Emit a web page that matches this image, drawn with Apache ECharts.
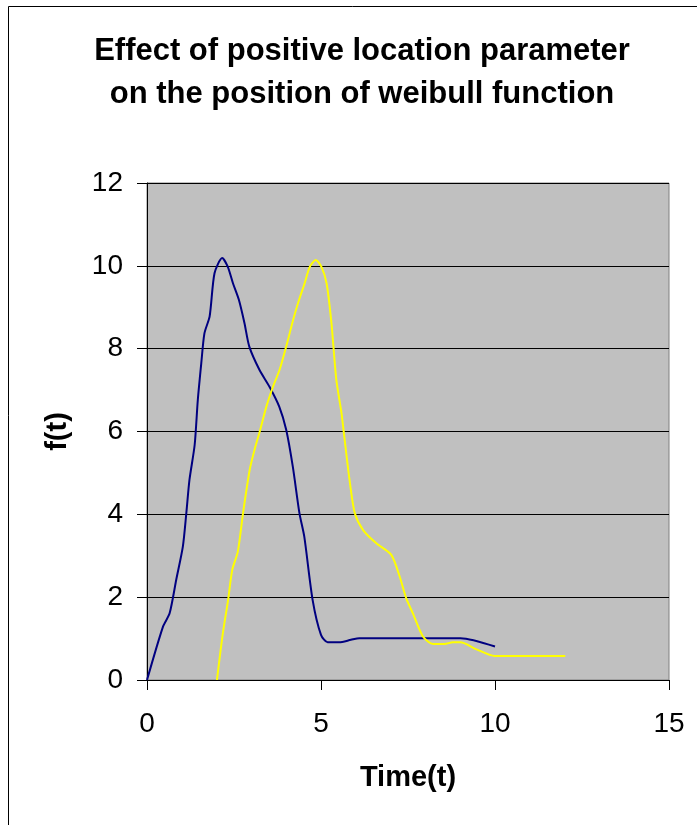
<!DOCTYPE html>
<html>
<head>
<meta charset="utf-8">
<script src="https://cdn.jsdelivr.net/npm/echarts@6/dist/echarts.min.js"></script>
<style>
  html, body { margin: 0; padding: 0; background: #fff; }
  #chart { width: 697px; height: 825px; }
</style>
</head>
<body>
<div id="chart"></div>
<script>
const titleText = 'Effect of positive location parameter\non the position of weibull function';
const xName = 'Time(t)';
const yName = 'f(t)';
const xTicks = [0, 5, 10, 15];
const yTicks = [0, 2, 4, 6, 8, 10, 12];

const blueX = [0, 0.46, 0.65, 0.84, 1.03, 1.13, 1.22, 1.37, 1.46, 1.56, 1.65, 1.80, 1.94, 2.16, 2.32, 2.47, 2.64, 2.80, 2.94, 3.23, 3.52, 3.80, 4.00, 4.19, 4.38, 4.52, 4.76, 5.00, 5.19, 5.52, 5.86, 6.10, 9.01, 10.0];
const blueY = [0, 1.29, 1.61, 2.42, 3.22, 4.03, 4.83, 5.68, 6.76, 7.65, 8.37, 8.78, 9.82, 10.19, 9.98, 9.58, 9.18, 8.62, 8.05, 7.49, 7.08, 6.60, 6.04, 5.15, 4.03, 3.46, 1.93, 1.09, 0.91, 0.91, 0.97, 1.01, 1.01, 0.81];

const yellowX = [2.01, 2.18, 2.33, 2.45, 2.61, 2.76, 2.95, 3.09, 3.24, 3.43, 3.62, 3.81, 4.05, 4.20, 4.37, 4.53, 4.68, 4.85, 5.01, 5.16, 5.30, 5.44, 5.59, 5.68, 5.82, 5.97, 6.21, 6.59, 7.02, 7.26, 7.45, 7.64, 7.93, 8.22, 8.55, 8.79, 9.01, 9.47, 9.99, 12.02];
const yellowY = [0, 1.13, 1.93, 2.66, 3.10, 4.03, 5.07, 5.56, 6.00, 6.60, 7.08, 7.49, 8.21, 8.70, 9.18, 9.58, 9.98, 10.14, 9.98, 9.58, 8.62, 7.25, 6.44, 5.80, 4.83, 4.03, 3.62, 3.30, 3.02, 2.50, 1.97, 1.61, 1.05, 0.87, 0.87, 0.91, 0.91, 0.74, 0.58, 0.58];

const zip = (xs, ys) => xs.map((x, i) => [x, ys[i]]);

const chart = echarts.init(document.getElementById('chart'), null, { renderer: 'canvas' });
const FONT = 'Liberation Sans, Arial, sans-serif';

chart.setOption({
  backgroundColor: '#ffffff',
  animation: false,
  title: {
    text: titleText,
    left: 362,
    textAlign: 'center',
    top: 30,
    padding: 0,
    textStyle: { fontFamily: FONT, fontSize: 31, fontWeight: 'bold', color: '#000', lineHeight: 43 }
  },
  graphic: [{
    type: 'polyline',
    shape: { points: [[8.5, 825], [8.5, 6.5], [697, 6.5]] },
    style: { stroke: '#000', lineWidth: 1, fill: null },
    silent: true
  }],
  grid: {
    left: 147, top: 183, width: 522, height: 497,
    show: true, backgroundColor: '#C0C0C0', borderColor: '#808080', borderWidth: 1
  },
  xAxis: {
    type: 'value', min: xTicks[0], max: xTicks[xTicks.length - 1], interval: 5,
    name: xName, nameLocation: 'middle', nameGap: 83,
    nameTextStyle: { fontFamily: FONT, fontSize: 29, fontWeight: 'bold', color: '#000' },
    axisLine: { show: true, onZero: false, lineStyle: { color: '#000', width: 1 } },
    axisTick: { show: true, inside: false, length: 10, lineStyle: { color: '#000' } },
    axisLabel: { margin: 30, fontFamily: FONT, fontSize: 28, color: '#000' },
    splitLine: { show: false }
  },
  yAxis: {
    type: 'value', min: yTicks[0], max: yTicks[yTicks.length - 1], interval: 2,
    name: yName, nameLocation: 'middle', nameGap: 75, nameRotate: 90,
    nameTextStyle: { fontFamily: FONT, fontSize: 29, fontWeight: 'bold', color: '#000' },
    axisLine: { show: true, lineStyle: { color: '#000', width: 1 } },
    axisTick: { show: true, inside: false, length: 10, lineStyle: { color: '#000' } },
    axisLabel: { margin: 24, fontFamily: FONT, fontSize: 28, color: '#000' },
    splitLine: { show: true, lineStyle: { color: '#000', width: 1 } }
  },
  series: [
    {
      type: 'line', data: zip(blueX, blueY), showSymbol: false, smooth: 0.25,
      lineStyle: { color: '#000080', width: 2 }, itemStyle: { color: '#000080' }
    },
    {
      type: 'line', data: zip(yellowX, yellowY), showSymbol: false, smooth: 0.25,
      lineStyle: { color: '#FFFF00', width: 2 }, itemStyle: { color: '#FFFF00' }
    }
  ]
});
</script>
</body>
</html>
